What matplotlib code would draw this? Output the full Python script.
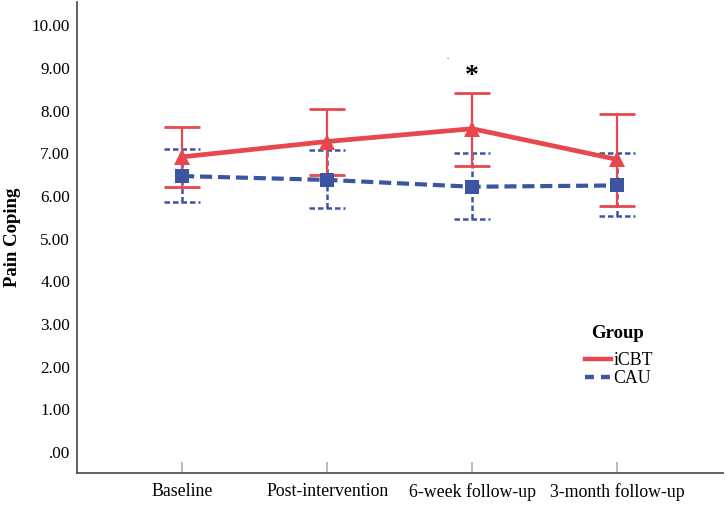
import matplotlib
matplotlib.use("Agg")
import matplotlib.pyplot as plt
from matplotlib.lines import Line2D
import numpy as np

categories = ["Baseline", "Post-intervention", "6-week follow-up", "3-month follow-up"]
icbt_mean = [6.92, 7.28, 7.58, 6.86]
icbt_low = [6.21, 6.49, 6.71, 5.77]
icbt_high = [7.61, 8.04, 8.42, 7.93]
cau_mean = [6.47, 6.38, 6.22, 6.25]
cau_low = [5.86, 5.72, 5.46, 5.54]
cau_high = [7.11, 7.07, 7.00, 7.00]
ytick_vals = [0, 1, 2, 3, 4, 5, 6, 7, 8, 9, 10]
ytick_labels = [".00", "1.00", "2.00", "3.00", "4.00", "5.00", "6.00", "7.00", "8.00", "9.00", "10.00"]

RED = "#E8484D"
BLUE = "#3B55A3"

plt.rcParams["font.family"] = ["Liberation Serif", "DejaVu Serif"]

fig = plt.figure(figsize=(7.27, 5.05), dpi=100)
ax = fig.add_axes([77 / 727, 32 / 505, 646 / 727, 471 / 505])

x = np.arange(len(categories))
cw = 0.125

# CAU error bars (dashed)
dash_small = (0, (2.2, 1.2))
ax.vlines(x, cau_low, cau_high, colors=BLUE, linewidth=1.8, linestyles=dash_small, zorder=2)
ax.hlines(cau_low, x - cw, x + cw, colors=BLUE, linewidth=1.8, linestyles=dash_small, zorder=2)
ax.hlines(cau_high, x - cw, x + cw, colors=BLUE, linewidth=1.8, linestyles=dash_small, zorder=2)

# iCBT error bars
ax.vlines(x, icbt_low, icbt_high, colors=RED, linewidth=1.6, zorder=3)
ax.hlines(icbt_low, x - cw, x + cw, colors=RED, linewidth=2.0, zorder=3)
ax.hlines(icbt_high, x - cw, x + cw, colors=RED, linewidth=2.0, zorder=3)

# Mean lines
ax.plot(x, cau_mean, color=BLUE, linewidth=3.0, linestyle=(0, (2.9, 1.4)),
        marker="s", markersize=10, markeredgewidth=0, zorder=4, label="CAU")
ax.plot(x, icbt_mean, color=RED, linewidth=3.4, linestyle="-",
        marker="^", markersize=12, markeredgewidth=0, zorder=5, label="iCBT")

ax.set_xlim(-0.725, 3.73)
ax.set_ylim(-0.49, 10.55)
ax.set_yticks(ytick_vals)
ax.set_yticklabels(ytick_labels, fontsize=12.3)
ax.set_xticks(x)
ax.set_xticklabels(categories, fontsize=12.8)
ax.tick_params(axis="y", length=0, pad=5)
ax.tick_params(axis="x", direction="in", length=8, width=1.2, color="#b0b0b0", pad=7)

for s in ["top", "right"]:
    ax.spines[s].set_visible(False)
for s in ["left", "bottom"]:
    ax.spines[s].set_color("#555555")
    ax.spines[s].set_linewidth(1.3)

ax.set_ylabel("Pain Coping", fontsize=13.5, fontweight="bold", labelpad=8)

# Significance marker
ax.text(x[2], 8.8, "*", ha="center", va="center", fontsize=20, fontweight="bold", color="black")
ax.text(x[2] - 0.17, 9.25, ".", ha="center", va="center", fontsize=6, color="black")

# Legend
fig.text(618 / 727, 1 - 334 / 505, "Group", ha="center", va="center",
         fontsize=13.5, fontweight="bold")
h_icbt = Line2D([], [], color=RED, linewidth=3.2)
h_cau = Line2D([], [], color=BLUE, linewidth=3.2, linestyle=(0, (2.0, 1.6)))
leg = ax.legend([h_icbt, h_cau], ["iCBT", "CAU"], frameon=False,
                loc="upper left", bbox_to_anchor=(585 / 727, 1 - 352 / 505),
                bbox_transform=fig.transFigure, fontsize=12.8,
                handlelength=1.45, handletextpad=0.15, labelspacing=0.08, borderpad=0.0,
                borderaxespad=0.0)

fig.savefig("out.png", dpi=100)
